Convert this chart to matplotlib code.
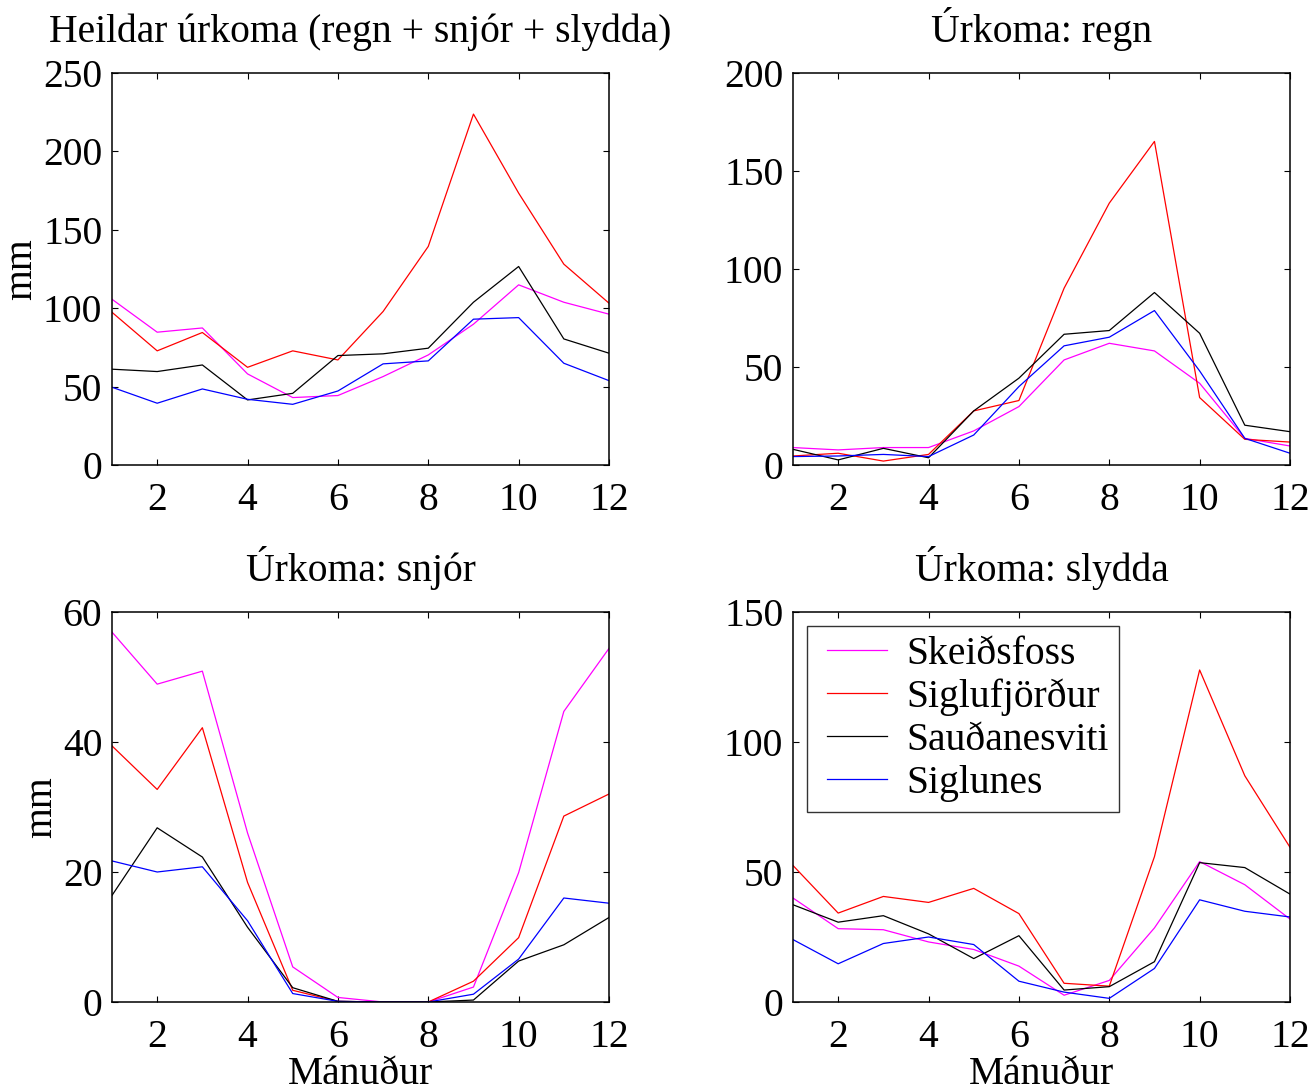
import matplotlib
matplotlib.use("Agg")
import matplotlib.pyplot as plt
from matplotlib.lines import Line2D
from matplotlib.legend_handler import HandlerLine2D

months = list(range(1, 13))
stations = ["Skeiðsfoss", "Siglufjörður", "Sauðanesviti", "Siglunes"]
colors = ["#ff00ff", "#ff0000", "#000000", "#0000ff"]

# Heildar úrkoma (total)
total_skeidsfoss = [105.7, 84.7, 87.4, 58.1, 43.0, 44.3, 56.4, 70.2, 89.8, 114.9, 103.8, 96.2]
total_siglufjordur = [97.4, 72.8, 84.5, 62.3, 72.8, 67.0, 97.9, 139.4, 223.8, 173.4, 128.1, 103.2]
total_saudanesviti = [61.1, 59.6, 63.8, 41.5, 45.7, 69.8, 70.9, 74.5, 103.8, 126.6, 80.4, 71.3]
total_siglunes = [49.6, 39.4, 48.5, 41.9, 38.7, 47.2, 64.5, 66.4, 93.0, 94.0, 64.9, 53.8]

# Regn (rain)
rain_skeidsfoss = [8.9, 7.7, 8.9, 8.9, 17.4, 29.8, 53.6, 62.1, 58.2, 41.7, 13.6, 9.7]
rain_siglufjordur = [4.6, 6.0, 2.0, 5.4, 27.6, 32.9, 90.2, 133.6, 165.1, 34.4, 13.1, 11.7]
rain_saudanesviti = [8.0, 2.6, 8.5, 3.7, 27.6, 44.3, 66.7, 68.6, 88.0, 67.2, 20.3, 17.0]
rain_siglunes = [4.3, 4.6, 5.4, 4.3, 15.3, 40.0, 60.8, 65.2, 78.8, 48.0, 13.6, 6.0]

# Snjór (snow)
snow_skeidsfoss = [56.9, 48.9, 50.9, 26.0, 5.4, 0.7, 0.0, 0.0, 2.3, 19.9, 44.7, 54.4]
snow_siglufjordur = [39.4, 32.7, 42.2, 18.4, 1.8, 0.1, 0.0, 0.0, 3.2, 9.9, 28.6, 32.0]
snow_saudanesviti = [16.4, 26.8, 22.3, 11.5, 2.2, 0.1, 0.0, 0.0, 0.3, 6.3, 8.8, 13.0]
snow_siglunes = [21.7, 20.0, 20.8, 12.5, 1.3, 0.1, 0.0, 0.0, 1.2, 6.6, 16.0, 15.2]

# Slydda (sleet)
sleet_skeidsfoss = [40.0, 28.2, 27.8, 23.1, 20.2, 13.8, 2.6, 8.3, 28.5, 54.0, 45.1, 31.9]
sleet_siglufjordur = [52.5, 34.2, 40.6, 38.3, 43.7, 34.0, 7.2, 6.1, 55.9, 127.7, 87.0, 59.5]
sleet_saudanesviti = [37.4, 30.7, 33.2, 26.2, 16.7, 25.5, 4.6, 5.9, 15.5, 53.6, 51.7, 41.5]
sleet_siglunes = [24.0, 14.7, 22.5, 25.0, 22.1, 8.0, 3.8, 1.4, 12.9, 39.3, 34.9, 32.7]

panels = [
    ("Heildar úrkoma (regn + snjór + slydda)",
     [total_skeidsfoss, total_siglufjordur, total_saudanesviti, total_siglunes], 250, 50),
    ("Úrkoma: regn",
     [rain_skeidsfoss, rain_siglufjordur, rain_saudanesviti, rain_siglunes], 200, 50),
    ("Úrkoma: snjór",
     [snow_skeidsfoss, snow_siglufjordur, snow_saudanesviti, snow_siglunes], 60, 20),
    ("Úrkoma: slydda",
     [sleet_skeidsfoss, sleet_siglufjordur, sleet_saudanesviti, sleet_siglunes], 150, 50),
]

plt.rcParams['font.family'] = ['Liberation Serif', 'DejaVu Serif']
FS = 28.5

W, H = 1315, 1090
fig = plt.figure(figsize=(W / 100, H / 100), dpi=100)

boxes = [
    (112, 73, 609, 465),
    (793, 73, 1290, 465),
    (112, 612, 609, 1002),
    (793, 612, 1290, 1002),
]

for i, ((title, series, ymax, ystep), (x0, y0, x1, y1)) in enumerate(zip(panels, boxes)):
    ax = fig.add_axes([x0 / W, 1 - y1 / H, (x1 - x0) / W, (y1 - y0) / H])
    for vals, c, name in zip(series, colors, stations):
        ax.plot(months, vals, color=c, lw=0.9, label=name)
    ax.set_xlim(1, 12)
    ax.set_ylim(0, ymax)
    ax.set_xticks(range(2, 13, 2))
    ax.set_yticks(range(0, ymax + 1, ystep))
    ax.tick_params(direction='in', length=4, width=0.8, top=True, right=True,
                   labelsize=FS, pad=7)
    ax.tick_params(axis='x', pad=12)
    for sp in ax.spines.values():
        sp.set_linewidth(1.1)
    ax.set_title(title, fontsize=FS, pad=22)
    if i in (0, 2):
        ax.set_ylabel("mm", fontsize=FS, labelpad=2)
    if i in (2, 3):
        ax.set_xlabel("Mánuður", fontsize=FS, labelpad=0)
    if i == 3:
        leg = ax.legend(loc='upper left', fontsize=FS, frameon=True, fancybox=False,
                        edgecolor='black', handlelength=1.77, handletextpad=0.5,
                        borderpad=0.25, labelspacing=0.15, borderaxespad=0.35,
                        handler_map={Line2D: HandlerLine2D(xpad=0.25)})
        leg.get_frame().set_linewidth(1.0)

fig.savefig("out.png", dpi=100)
